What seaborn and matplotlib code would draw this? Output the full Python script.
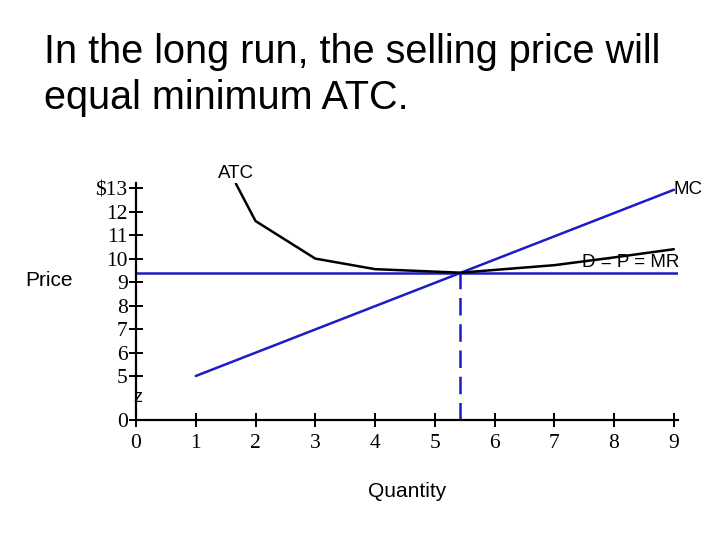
import numpy as np
import matplotlib
matplotlib.use("Agg")
import matplotlib.pyplot as plt
import seaborn as sns

# values
atc_q = [1.67, 2, 3, 4, 5.43, 7, 8, 9]
atc_cost = [13.2, 11.6, 10.0, 9.55, 9.4, 9.72, 10.05, 10.4]
mc_q = [1, 9]
mc_cost = [5.0, 12.93]
price_q = [0, 9.07]
price_level = [9.4, 9.4]
q_star = 5.43
x_ticks = [0, 1, 2, 3, 4, 5, 6, 7, 8, 9]
y_ticks = [0, 5, 6, 7, 8, 9, 10, 11, 12, 13]
y_labels = ["0", "5", "6", "7", "8", "9", "10", "11", "12", "$13"]

BLUE = "#1c1cc4"


def fwd(v):
    # broken axis: squeeze 0..5 into a short stretch
    v = np.asarray(v, dtype=float)
    return np.where(v < 5, v * 0.375, v - 3.125)


def inv(u):
    u = np.asarray(u, dtype=float)
    return np.where(u < 1.875, u / 0.375, u + 3.125)


sns.set_style("white")
plt.rcParams["font.family"] = ["Liberation Sans", "DejaVu Sans"]
plt.rcParams["text.color"] = "black"
plt.rcParams["axes.labelcolor"] = "black"

fig = plt.figure(figsize=(7.2, 5.4), dpi=100)
ax = fig.add_axes([136 / 720, 120 / 540, 542 / 720, 237 / 540])
ax.set_yscale("function", functions=(fwd, inv))

sns.lineplot(x=price_q, y=price_level, ax=ax, color=BLUE, lw=1.8)
sns.lineplot(x=mc_q, y=mc_cost, ax=ax, color=BLUE, lw=1.8)
sns.lineplot(x=atc_q, y=atc_cost, ax=ax, color="black", lw=1.8)
ax.plot([q_star, q_star], [0, price_level[0]], color=BLUE, lw=1.8,
        linestyle=(0, (7, 3.5)))

ax.set_xlim(0, 9.07)
ax.set_ylim(0, 13.22)

for side in ["top", "right"]:
    ax.spines[side].set_visible(False)
for side in ["left", "bottom"]:
    ax.spines[side].set_linewidth(1.6)
    ax.spines[side].set_color("black")

ax.set_xticks(x_ticks)
ax.set_yticks(y_ticks)
ax.set_yticklabels(y_labels)
ax.tick_params(bottom=True, left=True, direction="inout", length=10, width=1.4,
               color="black", labelsize=15.5, labelcolor="black")
ax.tick_params(axis="x", pad=5)
ax.tick_params(axis="y", pad=1)
for lab in ax.get_xticklabels() + ax.get_yticklabels():
    lab.set_family("Liberation Serif")

ax.set_xlabel("Quantity", fontsize=15, labelpad=21)
ax.set_ylabel("")
fig.text(25 / 720, 1 - 280 / 540, "Price", fontsize=15, va="center", ha="left")

ax.text(1.67, 13.62, "ATC", fontsize=13.5, ha="center", va="center", clip_on=False)
ax.text(9.0, 12.93, "MC", fontsize=13.5, ha="left", va="center", clip_on=False)
ax.text(8.27, 9.84, "D = P = MR", fontsize=13.5, ha="center", va="center", clip_on=False)
ax.text(0.03, 2.6, "z", fontsize=13, ha="center", va="center", clip_on=False)

fig.text(44 / 720, 1 - 33 / 540,
         "In the long run, the selling price will\nequal minimum ATC.",
         fontsize=28.5, va="top", ha="left", linespacing=1.26)

fig.savefig("out.png", dpi=100)
